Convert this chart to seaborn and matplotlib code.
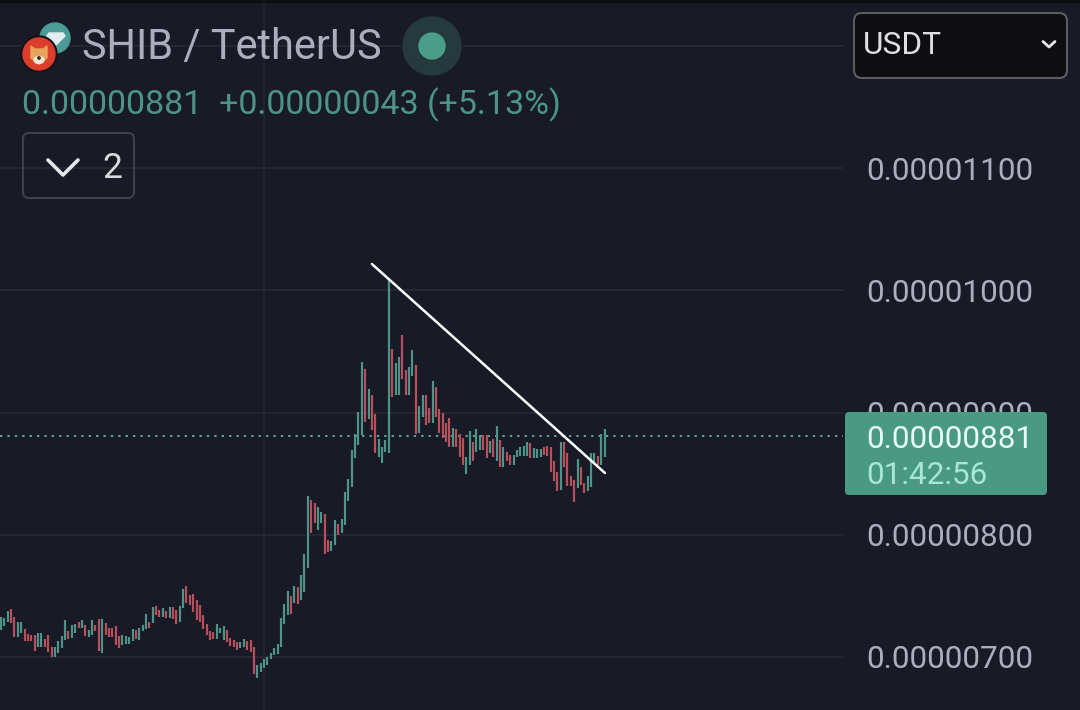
import numpy as np
import pandas as pd
import seaborn as sns
import matplotlib
matplotlib.use('Agg')
import matplotlib.pyplot as plt
from matplotlib.patches import Circle, Ellipse, FancyBboxPatch, Polygon, Rectangle

# prices are in units of 0.00000001
candle_high = [
    732.5, 731.7, 737.7, 739.3, 732.5, 728.4, 728.4, 722.9, 718.8, 718.3,
    718.0, 719.4, 719.7, 714.7, 718.0, 708.5, 707.9, 713.1, 717.2, 730.3,
    721.6, 726.2, 727.0, 728.4, 730.3, 726.2, 722.1, 730.3, 726.2, 730.8,
    731.1, 727.6, 723.5, 723.5, 725.4, 717.2, 718.0, 717.2, 716.1, 722.9,
    722.1, 723.5, 726.2, 735.2, 728.4, 741.2, 741.7, 738.5, 740.4, 737.9,
    741.2, 741.2, 738.5, 741.8, 755.7, 758.4, 750.8, 751.3, 746.7, 742.6,
    734.4, 727.0, 721.6, 720.8, 727.0, 723.5, 725.4, 722.1, 715.3, 713.9,
    712.6, 712.0, 714.7, 713.1, 713.9, 707.9, 693.5, 695.4, 698.4, 699.7,
    703.0, 707.1, 710.7, 731.7, 743.4, 754.0, 749.9, 758.1, 757.3, 767.1,
    784.3, 831.8, 828.5, 825.8, 822.5, 818.4, 817.0, 795.7, 795.2, 812.1,
    808.8, 812.7, 834.8, 845.7, 869.4, 882.5, 900.2, 941.2, 935.7, 919.3,
    914.4, 898.9, 878.1, 872.1, 877.6, 1008.5, 951.8, 940.3, 945.2, 963.5,
    934.9, 937.1, 951.2, 939.0, 905.4, 914.4, 914.4, 903.5, 925.9, 921.3,
    902.7, 899.4, 891.8, 895.3, 887.2, 886.3, 882.5, 879.0, 863.4, 885.0,
    876.2, 886.3, 881.7, 881.7, 881.7, 877.1, 878.2, 889.1, 877.6, 871.6,
    868.1, 865.3, 865.3, 869.4, 871.6, 872.7, 875.7, 874.9, 870.8, 870.0,
    870.0, 871.6, 872.7, 871.6, 860.7, 851.7, 876.2, 876.2, 866.7, 848.2,
    844.9, 861.8, 855.8, 842.1, 848.2, 866.7, 866.7, 864.5, 882.5, 886.3,
]
candle_low = [
    722.1, 725.7, 728.4, 727.6, 716.7, 716.7, 719.4, 713.1, 713.1, 713.1,
    705.2, 708.5, 708.5, 708.5, 704.4, 699.7, 700.3, 703.6, 707.1, 713.9,
    714.5, 715.3, 719.4, 723.5, 723.5, 717.2, 716.7, 718.0, 721.6, 705.2,
    703.0, 718.0, 716.7, 716.7, 709.8, 707.1, 709.8, 710.7, 710.7, 713.4,
    714.5, 713.9, 721.6, 722.7, 723.5, 727.6, 734.4, 732.5, 732.5, 731.7,
    731.7, 730.8, 727.0, 728.4, 740.4, 743.9, 742.6, 737.1, 730.3, 728.4,
    722.9, 718.0, 713.9, 714.5, 714.7, 719.4, 713.9, 712.6, 709.0, 707.9,
    705.7, 707.1, 707.9, 705.7, 704.4, 686.1, 683.1, 688.0, 690.7, 693.5,
    698.1, 701.7, 702.5, 708.5, 727.0, 734.4, 735.2, 744.2, 743.4, 746.6,
    753.2, 772.6, 801.2, 809.4, 803.9, 809.4, 784.3, 786.2, 787.0, 791.7,
    799.8, 801.2, 808.0, 827.9, 838.9, 862.6, 873.5, 881.7, 892.6, 894.5,
    885.8, 867.2, 863.9, 859.0, 868.0, 867.2, 913.0, 914.4, 914.4, 927.2,
    914.4, 914.4, 930.0, 882.5, 883.0, 896.7, 889.9, 891.2, 891.8, 896.7,
    883.1, 879.0, 876.2, 872.2, 872.2, 872.2, 863.4, 857.2, 849.5, 857.2,
    860.7, 868.1, 869.4, 869.4, 862.6, 866.7, 863.4, 860.7, 855.8, 855.2,
    860.4, 857.2, 857.2, 864.0, 864.5, 864.5, 864.5, 862.6, 863.2, 863.2,
    863.4, 865.3, 864.5, 851.7, 844.3, 836.1, 836.7, 855.8, 840.0, 840.0,
    827.1, 838.1, 840.8, 834.5, 836.1, 839.4, 859.1, 857.2, 857.2, 864.0,
]
candle_dir = list(
    "GGGRRGGRRR" "RGGRRRGGGG" "RGGRGRGGRR" "GRRRRRGGGG"
    "RGGGRGRRGR" "GRRGGRRRRR" "RRRRGGGRRR" "RGGRRRGGGG"
    "GGGGGGRGRG" "GGRRGGRRGG" "RGGGGGGGRG" "RRGGGGRGGR"
    "RGGRGGRRGR" "RRRRGRRRGG" "RGGRRGRGRG" "RRGGGGGRGG"
    "GRRRRRGRRR" "RGRRGGGRGG"
)
y_ticks = [700, 800, 900, 1000, 1100, 1200]
y_tick_labels = ["0.00000700", "0.00000800", "0.00000900", "0.00001000", "0.00001100", ""]
last_price = 881
trend_x = [110.0, 179.1]
trend_y = [1021.6, 850.6]

BG = '#181b26'
GRID = '#242732'
UP = '#4d9488'
DOWN = '#b84f5a'
TEXT = '#abafbd'

sns.set_theme(style='dark', rc={'axes.facecolor': BG, 'figure.facecolor': BG})
plt.rcParams['font.family'] = ['Roboto', 'DejaVu Sans']

rows = []
for i, (hi, lo, d) in enumerate(zip(candle_high, candle_low, candle_dir)):
    rows.append({'candle': i, 'price': hi, 'dir': d})
    rows.append({'candle': i, 'price': lo, 'dir': d})
df = pd.DataFrame(rows)

fig = plt.figure(figsize=(10.8, 7.1), dpi=100)
ax = fig.add_axes([0, 0, 1, 1])

# one candle every 3.372 px, 100 price units every 122.2 px
ax.set_xlim(-1 / 3.372, 1079 / 3.372)
ax.set_ylim(700 - 53 / 1.222, 700 + 657 / 1.222)
grid_end = 842 / 3.372
ax.hlines(y_ticks, ax.get_xlim()[0], grid_end, color=GRID, lw=1.5, zorder=1)
ax.vlines(78, *ax.get_ylim(), color=GRID, lw=1.2, zorder=1)
ax.hlines(last_price, ax.get_xlim()[0], grid_end, color='#5da594', lw=1.4,
          linestyles=(0, (1.2, 2.6)), zorder=1.5)

sns.lineplot(data=df, x='candle', y='price', hue='dir', units='candle', estimator=None,
             sort=False, palette={'G': UP, 'R': DOWN}, lw=1.55, legend=False, ax=ax,
             solid_capstyle='butt', zorder=2)
sns.lineplot(x=trend_x, y=trend_y, color='white', lw=1.8, ax=ax, zorder=3)

ax.set_axisbelow(True)
ax.set_xticks([])
ax.set_yticks(y_ticks, y_tick_labels)
ax.yaxis.tick_right()
ax.tick_params(axis='y', length=0, pad=-154, labelsize=22.7, labelcolor=TEXT)
ax.set_xlabel('')
ax.set_ylabel('')
for s in ax.spines.values():
    s.set_visible(False)

# header and price tag are laid out in pixels on top of the chart
ui = fig.add_axes([0, 0, 1, 1], facecolor='none')
ui.set_xlim(0, 1080)
ui.set_ylim(710, 0)
ui.axis('off')
ui.add_patch(Rectangle((0, 0), 1080, 1.5, color='#0d0e12'))

# coin icons
ui.add_patch(Circle((55, 38), 15, color='#4b9c97'))
ui.add_patch(Polygon([(49, 33), (63, 33), (65, 36), (56, 45), (47, 36)], color='#dfeeee'))
ui.add_patch(Circle((39, 54), 18, color='#12131a'))
ui.add_patch(Circle((39, 54), 16, color='#dc3d2c'))
ui.add_patch(Polygon([(31, 46), (35, 49), (43, 49), (47, 46), (47, 58), (39, 64), (31, 58)], color='#e9a25a'))
ui.add_patch(Ellipse((39, 60), 10, 7, color='#f6e6d2'))
ui.add_patch(Circle((39, 58), 1.2, color='#3a2a20'))

ui.text(82, 48, "SHIB / TetherUS", color=TEXT, fontsize=29.9, va='center', ha='left')
ui.add_patch(Circle((432, 46), 29, color='#243a3c'))
ui.add_patch(Circle((432, 46), 13, color='#4a9e87'))
ui.text(22, 105, "0.00000881  +0.00000043 (+5.13%)", color=UP, fontsize=24.45, va='center', ha='left')

ui.add_patch(FancyBboxPatch((27, 137), 103, 57, boxstyle='round,pad=4,rounding_size=6',
                            fc='none', ec='#3e414b', lw=1.5))
ui.plot([48, 63, 78], [160, 175, 160], color='#e6e7ea', lw=2.6, solid_capstyle='round')
ui.text(112, 168, "2", color='#d8dade', fontsize=25.5, va='center', ha='center')

ui.add_patch(FancyBboxPatch((859, 18), 203, 55, boxstyle='round,pad=5,rounding_size=8',
                            fc='#0e0e11', ec='#5a5c62', lw=1.5))
ui.text(863, 46, "USDT", color='#dedfe2', fontsize=22.8, va='center', ha='left')
ui.plot([1043, 1049, 1055], [41.5, 47, 41.5], color='#e6e7ea', lw=2, solid_capstyle='round')

ui.add_patch(FancyBboxPatch((847, 414), 198, 79, boxstyle='round,pad=2,rounding_size=4',
                            fc='#4a9a83', ec='none'))
ui.text(866.5, 439, "0.00000881", color='#e8fbf6', fontsize=22.7, va='center', ha='left')
ui.text(866.5, 476, "01:42:56", color='#a9e6d4', fontsize=22.7, va='center', ha='left')

fig.savefig('out.png', dpi=100, facecolor=BG)
